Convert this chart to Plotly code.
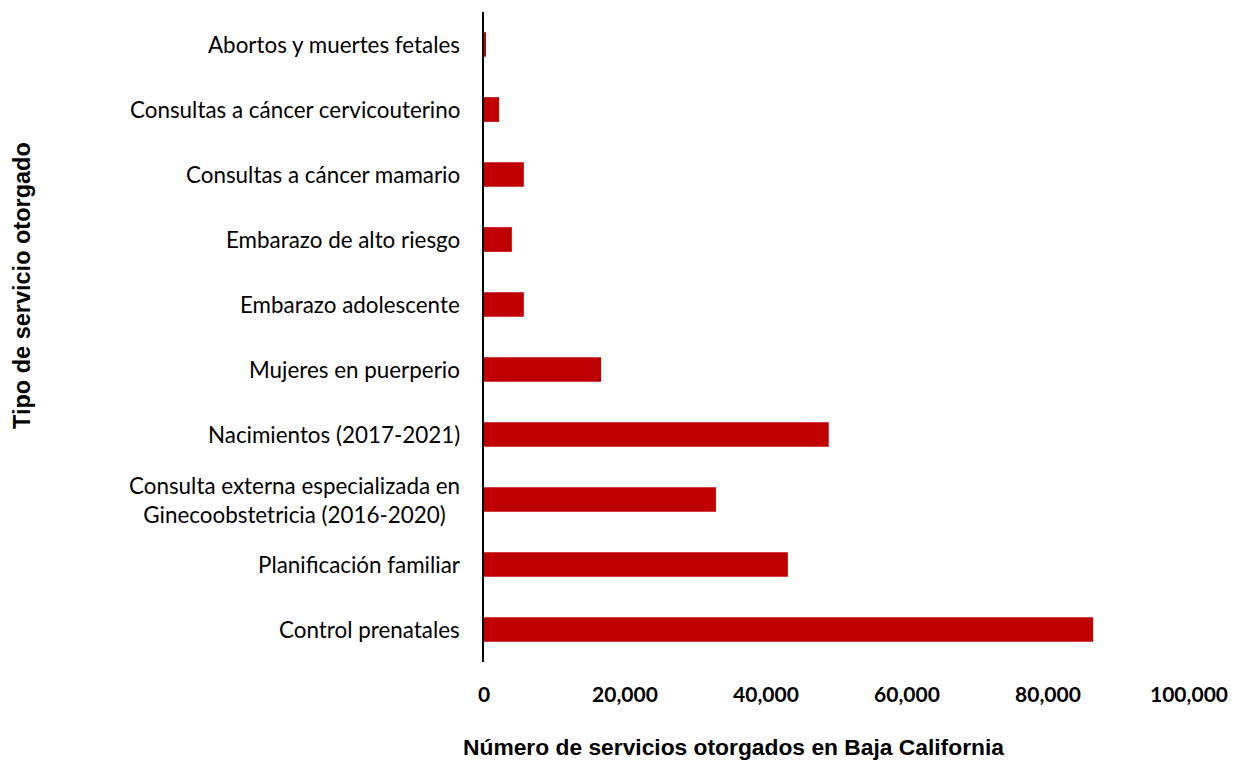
import plotly.graph_objects as go

categories = [
    "Control prenatales",
    "Planificación familiar",
    "Consulta externa especializada en<br>Ginecoobstetricia (2016-2020)",
    "Nacimientos (2017-2021)",
    "Mujeres en puerperio",
    "Embarazo adolescente",
    "Embarazo de alto riesgo",
    "Consultas a cáncer mamario",
    "Consultas a cáncer cervicouterino",
    "Abortos y muertes fetales",
]
values = [86400, 43100, 32900, 48900, 16600, 5650, 3950, 5650, 2150, 150]
x_ticks = [0, 20000, 40000, 60000, 80000, 100000]
x_ticklabels = ["0", "20,000", "40,000", "60,000", "80,000", "100,000"]

# page has 8px body margin -> figure origin at (8, 8)
OFF = 8
W, H = 1244 - 2 * OFF, 768 - 2 * OFF
L, R, T, B = 484 - OFF, 55 - OFF, 12 - OFF, 106 - OFF
pw, ph = W - L - R, H - T - B


def px_to_paper(px, py):
    return (px - OFF - L) / pw, (H - B - (py - OFF)) / ph


fig = go.Figure()
fig.add_trace(go.Bar(
    y=categories, x=values, orientation="h",
    marker=dict(color="#C00000", line=dict(width=0)),
    width=0.38,
))

annotations = []
for c in categories:
    annotations.append(dict(
        x=0, y=c, xref="paper", yref="y", xanchor="right", yanchor="middle",
        xshift=-22, text=c, showarrow=False, align="center",
        font=dict(family="Lato, Open Sans, sans-serif", size=22.4, color="#000000"),
    ))

xt_x, xt_y = px_to_paper(733, 747)
annotations.append(dict(
    x=xt_x, y=xt_y, xref="paper", yref="paper",
    text="<b>Número de servicios otorgados en Baja California</b>",
    showarrow=False, xanchor="center", yanchor="middle", borderpad=0,
    font=dict(family="Liberation Sans, Arial, sans-serif", size=22.8, color="#000000"),
))
yt_x, yt_y = px_to_paper(22, 286)
annotations.append(dict(
    x=yt_x, y=yt_y, xref="paper", yref="paper",
    text="<b>Tipo de servicio otorgado</b>", showarrow=False, textangle=-90,
    xanchor="center", yanchor="middle",
    font=dict(family="Liberation Sans, Arial, sans-serif", size=23.5, color="#000000"),
))

fig.update_layout(
    width=W, height=H,
    margin=dict(l=L, r=R, t=T, b=B, pad=0),
    paper_bgcolor="white", plot_bgcolor="white",
    showlegend=False,
    annotations=annotations,
    xaxis=dict(
        range=[0, 100000], tickvals=x_ticks, ticktext=x_ticklabels,
        showgrid=False, zeroline=False, showline=False,
        ticks="", ticklabelstandoff=18,
        tickfont=dict(family="Lato, Open Sans, sans-serif", size=21, color="#000000", weight="bold"),
    ),
    yaxis=dict(
        categoryorder="array", categoryarray=categories,
        range=[-0.5, len(categories) - 0.5],
        showticklabels=False, ticks="",
        showgrid=False, zeroline=False,
        showline=True, linecolor="#000000", linewidth=2,
    ),
)

fig.write_html("out.html")
